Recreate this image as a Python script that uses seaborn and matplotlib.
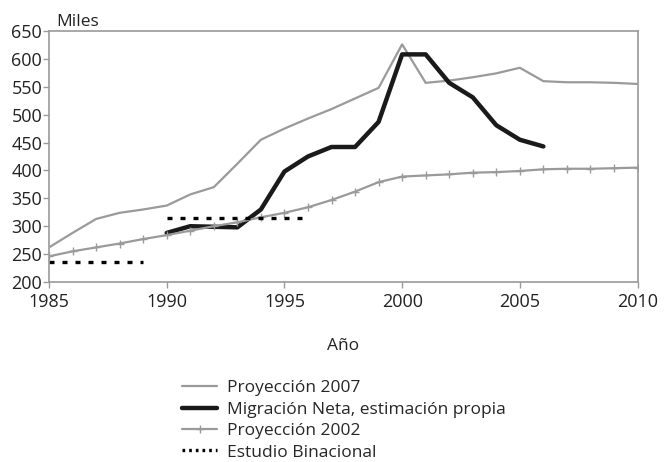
import pandas as pd
import seaborn as sns
import matplotlib
matplotlib.use('Agg')
import matplotlib.pyplot as plt

# years
years_all = list(range(1985, 2011))
years_neta = list(range(1990, 2007))

proy_2007 = [262, 288, 313, 324, 330, 337, 357, 370, 412, 455, 475, 493, 510,
             529, 548, 626, 557, 561, 567, 574, 584, 560, 558, 558, 557, 555]
migracion_neta = [288, 300, 299, 298, 330, 398, 425, 442, 442, 487, 608, 608,
                  557, 531, 481, 455, 443]
proy_2002 = [246, 255, 262, 269, 277, 284, 292, 300, 307, 316, 324, 334, 347,
             362, 379, 389, 391, 393, 396, 397, 399, 402, 403, 403, 404, 405]
binacional_a_years = [1985, 1989]
binacional_a = [235, 235]
binacional_b_years = [1990, 1996]
binacional_b = [315, 315]

labels = ["Proyección 2007", "Migración Neta, estimación propia",
          "Proyección 2002", "Estudio Binacional"]

sns.set_style("white")
plt.rcParams['font.family'] = ['Open Sans', 'DejaVu Sans']

fig = plt.figure(figsize=(6.65, 4.62), dpi=100)
ax = fig.add_axes([0.0737, 0.3896, 0.885, 0.5434])

gray = "#9a9a9a"
dots = (0, (1.5, 2.4))
sns.lineplot(x=years_all, y=proy_2007, ax=ax, color=gray, lw=1.6, label=labels[0])
sns.lineplot(x=years_neta, y=migracion_neta, ax=ax, color="#1a1a1a", lw=3.2,
             label=labels[1])
sns.lineplot(x=years_all, y=proy_2002, ax=ax, color=gray, lw=1.6, marker="+",
             markersize=6, markeredgewidth=1.0, markeredgecolor=gray, label=labels[2])
sns.lineplot(x=binacional_a_years, y=binacional_a, ax=ax, color="black", lw=2.4,
             linestyle=dots, label=labels[3])
sns.lineplot(x=binacional_b_years, y=binacional_b, ax=ax, color="black", lw=2.4,
             linestyle=dots)

ax.set_xlim(1985, 2010)
ax.set_ylim(200, 650)
ax.set_xticks(range(1985, 2011, 5))
ax.set_yticks(range(200, 651, 50))
for s in ax.spines.values():
    s.set_color(gray)
    s.set_linewidth(1.2)
ax.tick_params(axis='both', labelsize=13, colors=gray, labelcolor="#222222",
               length=4, width=1, direction='out', bottom=True, left=True)
ax.tick_params(axis='x', pad=4)
ax.tick_params(axis='y', pad=1)
ax.set_xlabel("Año", fontsize=12.5, color="#222222", labelpad=19)
ax.set_ylabel("")
ax.text(0.012, 1.005, "Miles", transform=ax.transAxes, fontsize=12.5,
        color="#222222", va="bottom", ha="left")

leg = ax.legend(loc="upper left", bbox_to_anchor=(0.2115, -0.357), frameon=False,
                fontsize=12.5, handlelength=2.0, labelspacing=0.3,
                handletextpad=0.6, borderpad=0, numpoints=1)
# smaller dots in the legend key, as in the original
leg.get_lines()[3].set_linestyle((0, (0.8, 1.2)))

fig.savefig("out.png", dpi=100)
